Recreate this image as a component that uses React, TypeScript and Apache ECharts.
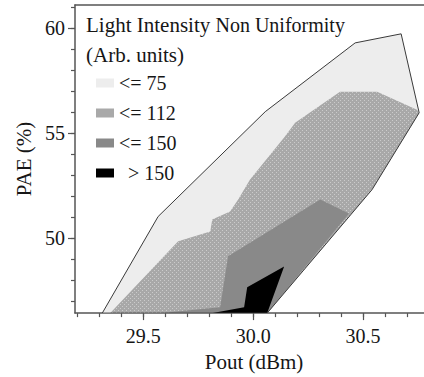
import React, { useEffect, useRef } from "react";
import * as echarts from "echarts";

// ---- Data (Pout dBm, PAE %) ----
const levelNames = ["<= 75", "<= 112", "<= 150", "> 150"];
const levelColors = ["#ededed", "#a9a9a9", "#898989", "#000000"];

// outer boundary of the measured region (<= 75)
const region75: number[][] = [
  [29.314, 46.45], [29.568, 51.04], [30.055, 56.02], [30.464, 59.29],
  [30.673, 59.72], [30.755, 55.97], [30.541, 52.32], [30.064, 46.45],
];
// <= 112
const region112: number[][] = [
  [29.35, 46.45], [29.659, 49.86], [29.805, 50.33], [29.814, 50.9],
  [29.895, 51.28], [29.932, 51.85], [29.986, 52.8], [30.141, 54.79],
  [30.191, 55.5], [30.395, 56.97], [30.564, 56.97], [30.745, 56.11],
  [30.755, 55.97], [30.541, 52.32], [30.064, 46.45],
];
// <= 150
const region150: number[][] = [
  [29.577, 46.45], [29.85, 46.73], [29.886, 49.15], [30.305, 51.85],
  [30.436, 51.18], [30.064, 46.45],
];
// > 150
const regionOver: number[][] = [
  [29.814, 46.45], [29.959, 46.73], [29.973, 47.68], [30.141, 48.67],
  [30.064, 46.45],
];

const xMajorTicks = [29.5, 30.0, 30.5];
const xMinorTicks = [29.2, 29.3, 29.4, 29.5, 29.6, 29.7, 29.8, 29.9, 30.0, 30.1, 30.2, 30.3, 30.4, 30.5, 30.6, 30.7];
const yMajorTicks = [50, 55, 60];
const yMinorTicks = [47, 48, 49, 50, 51, 52, 53, 54, 55, 56, 57, 58, 59, 60, 61];

const X_MIN = 29.19;
const X_MAX = 30.777;
const Y_MIN = 46.45;
const Y_MAX = 61.09;

const FONT = "Liberation Serif";
const TXT = "#161616";
const AXIS = "#555555";

function makeStipple(): any {
  const c = document.createElement("canvas");
  c.width = 4;
  c.height = 4;
  const ctx = c.getContext("2d");
  if (!ctx) return "#b0b0b0";
  ctx.fillStyle = "#a8a8a8";
  ctx.fillRect(0, 0, 4, 4);
  ctx.fillStyle = "#cbcbcb";
  ctx.fillRect(0, 0, 1, 1);
  ctx.fillRect(2, 2, 1, 1);
  return { image: c, repeat: "repeat", imageWidth: 4, imageHeight: 4 };
}

function polySeries(name: string, pts: number[][], fill: any, legendColor: string, z: number, stroke?: string) {
  return {
    type: "custom",
    name,
    coordinateSystem: "cartesian2d",
    xAxisIndex: 0,
    yAxisIndex: 0,
    z,
    clip: true,
    itemStyle: { color: legendColor },
    data: pts,
    renderItem: (params: any, api: any) => {
      if (params.dataIndex !== 0) return null;
      const points = pts.map((p) => api.coord(p));
      return {
        type: "polygon",
        shape: { points },
        style: stroke
          ? { fill: "none", stroke, lineWidth: 1 }
          : { fill, stroke: "none" },
      };
    },
  };
}

export default function App() {
  const ref = useRef<HTMLDivElement>(null);
  useEffect(() => {
    if (!ref.current) return;
    const chart = echarts.init(ref.current, null, { renderer: "svg" });
    const stipple = makeStipple();
    const axisCommon = {
      type: "value",
      min: X_MIN,
      max: X_MAX,
      splitLine: { show: false },
    };
    const txt = (size: number) => ({
      fontSize: size,
      fontFamily: FONT,
      fontWeight: "normal",
      color: TXT,
    });
    chart.setOption({
      animation: false,
      backgroundColor: "#ffffff",
      textStyle: { fontFamily: FONT },
      grid: { left: 75, right: 0, top: 5, bottom: 63, containLabel: false },
      title: {
        text: "{a|Light Intensity} {b|Non Uniformity}\n{a|(Arb. units)}",
        left: 86,
        top: 10,
        padding: 0,
        textStyle: {
          ...txt(21),
          lineHeight: 30,
          rich: {
            a: { ...txt(21), lineHeight: 30 },
            b: { ...txt(20), lineHeight: 30 },
          },
        },
      },
      legend: {
        data: levelNames,
        orient: "vertical",
        left: 96,
        top: 73,
        padding: 0,
        itemWidth: 18,
        itemHeight: 9,
        itemGap: 10,
        icon: "rect",
        formatter: (n: string) => (n === "> 150" ? "{p|}{t|" + n + "}" : "{t|" + n + "}"),
        textStyle: {
          ...txt(20),
          rich: { p: { width: 9 }, t: { ...txt(20) } },
        },
      },
      xAxis: [
        {
          ...axisCommon,
          position: "bottom",
          name: "Pout (dBm)",
          nameLocation: "middle",
          nameGap: 37,
          nameTextStyle: { ...txt(21), padding: [0, 0, 0, 9] },
          axisLine: { show: true, onZero: false, lineStyle: { color: AXIS, width: 1.5 } },
          axisTick: { show: true, customValues: xMajorTicks, length: 7, lineStyle: { color: AXIS, width: 1.2 } },
          axisLabel: {
            customValues: xMajorTicks,
            formatter: (v: number) => v.toFixed(1),
            ...txt(20),
            margin: 13,
          },
        },
        {
          ...axisCommon,
          position: "bottom",
          axisLine: { show: false, onZero: false },
          axisTick: { show: true, customValues: xMinorTicks, length: 4, lineStyle: { color: AXIS, width: 1.2 } },
          axisLabel: { show: false },
        },
        {
          ...axisCommon,
          position: "top",
          axisLine: { show: true, onZero: false, lineStyle: { color: AXIS, width: 1.5 } },
          axisTick: { show: false },
          axisLabel: { show: false },
        },
      ],
      yAxis: [
        {
          type: "value",
          min: Y_MIN,
          max: Y_MAX,
          position: "left",
          splitLine: { show: false },
          name: "PAE (%)",
          nameLocation: "middle",
          nameGap: 41,
          nameTextStyle: txt(21),
          axisLine: { show: true, onZero: false, lineStyle: { color: AXIS, width: 1.5 } },
          axisTick: { show: true, customValues: yMajorTicks, length: 7, lineStyle: { color: AXIS, width: 1.2 } },
          axisLabel: {
            customValues: yMajorTicks,
            ...txt(20),
            margin: 10,
          },
        },
        {
          type: "value",
          min: Y_MIN,
          max: Y_MAX,
          position: "left",
          splitLine: { show: false },
          axisLine: { show: false, onZero: false },
          axisTick: { show: true, customValues: yMinorTicks, length: 4, lineStyle: { color: AXIS, width: 1.2 } },
          axisLabel: { show: false },
        },
      ],
      series: [
        polySeries(levelNames[0], region75, levelColors[0], levelColors[0], 2),
        polySeries(levelNames[1], region112, stipple, levelColors[1], 3),
        polySeries(levelNames[2], region150, levelColors[2], levelColors[2], 4),
        polySeries(levelNames[3], regionOver, levelColors[3], levelColors[3], 5),
        polySeries("outline", region75, "none", "#333333", 6, "#3a3a3a"),
      ],
    });
    return () => chart.dispose();
  }, []);
  return (
    <div
      ref={ref}
      style={{ position: "fixed", left: 0, top: 0, width: 424, height: 377, background: "#fff" }}
    />
  );
}
